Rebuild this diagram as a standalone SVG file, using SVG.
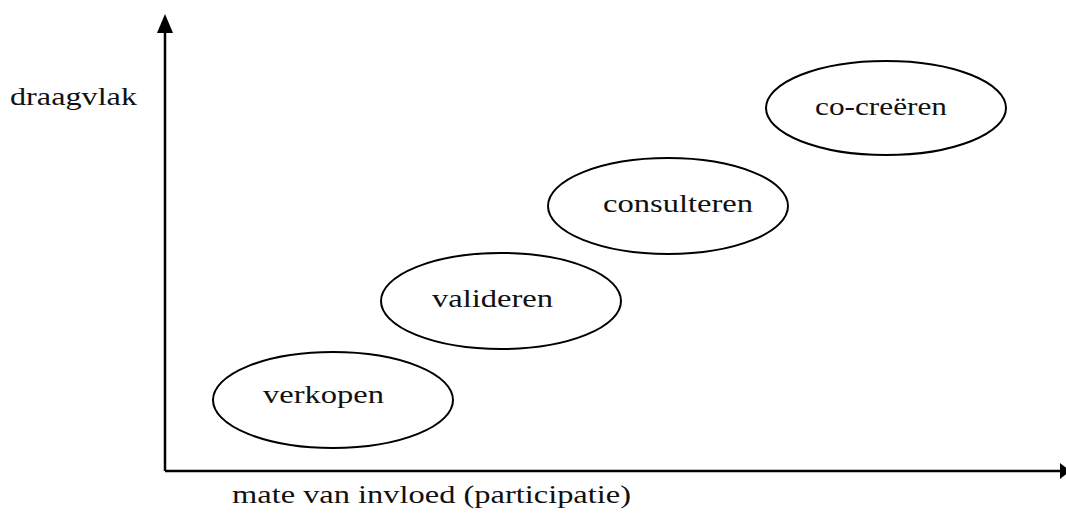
<svg xmlns="http://www.w3.org/2000/svg" width="1066" height="516" viewBox="0 0 1066 516">
<style>
.n{fill:#fff;stroke:#000;stroke-width:2}
.t{font-family:"Liberation Serif","DejaVu Serif",serif;font-size:26px;fill:#111}
.ax{stroke:#000;stroke-width:2.5;fill:none}
</style>
<rect width="1066" height="516" fill="#fff"/>
<g id="connectors">
<path class="ax" d="M165,471 L165,30"/>
<path d="M165,14 L157,33 L173,33 Z" fill="#000"/>
<path class="ax" d="M165,471 L1062,471"/>
<path d="M1060,463 L1070,471 L1060,479 Z" fill="#000"/>
</g>
<g id="axis-y-label"><text class="t" x="10" y="105" textLength="127" lengthAdjust="spacingAndGlyphs">draagvlak</text></g>
<g id="axis-x-label"><text class="t" x="232" y="503" textLength="399" lengthAdjust="spacingAndGlyphs">mate van invloed (participatie)</text></g>
<g id="verkopen"><ellipse class="n" cx="333" cy="400" rx="120" ry="48"/><text class="t" x="263" y="403" textLength="121" lengthAdjust="spacingAndGlyphs">verkopen</text></g>
<g id="valideren"><ellipse class="n" cx="501" cy="301" rx="120" ry="48"/><text class="t" x="432" y="307" textLength="121" lengthAdjust="spacingAndGlyphs">valideren</text></g>
<g id="consulteren"><ellipse class="n" cx="668" cy="206" rx="120" ry="48"/><text class="t" x="603" y="212" textLength="150" lengthAdjust="spacingAndGlyphs">consulteren</text></g>
<g id="co-creeren"><ellipse class="n" cx="886" cy="108" rx="120" ry="47"/><text class="t" x="815" y="115" textLength="132" lengthAdjust="spacingAndGlyphs">co-creëren</text></g>
</svg>
